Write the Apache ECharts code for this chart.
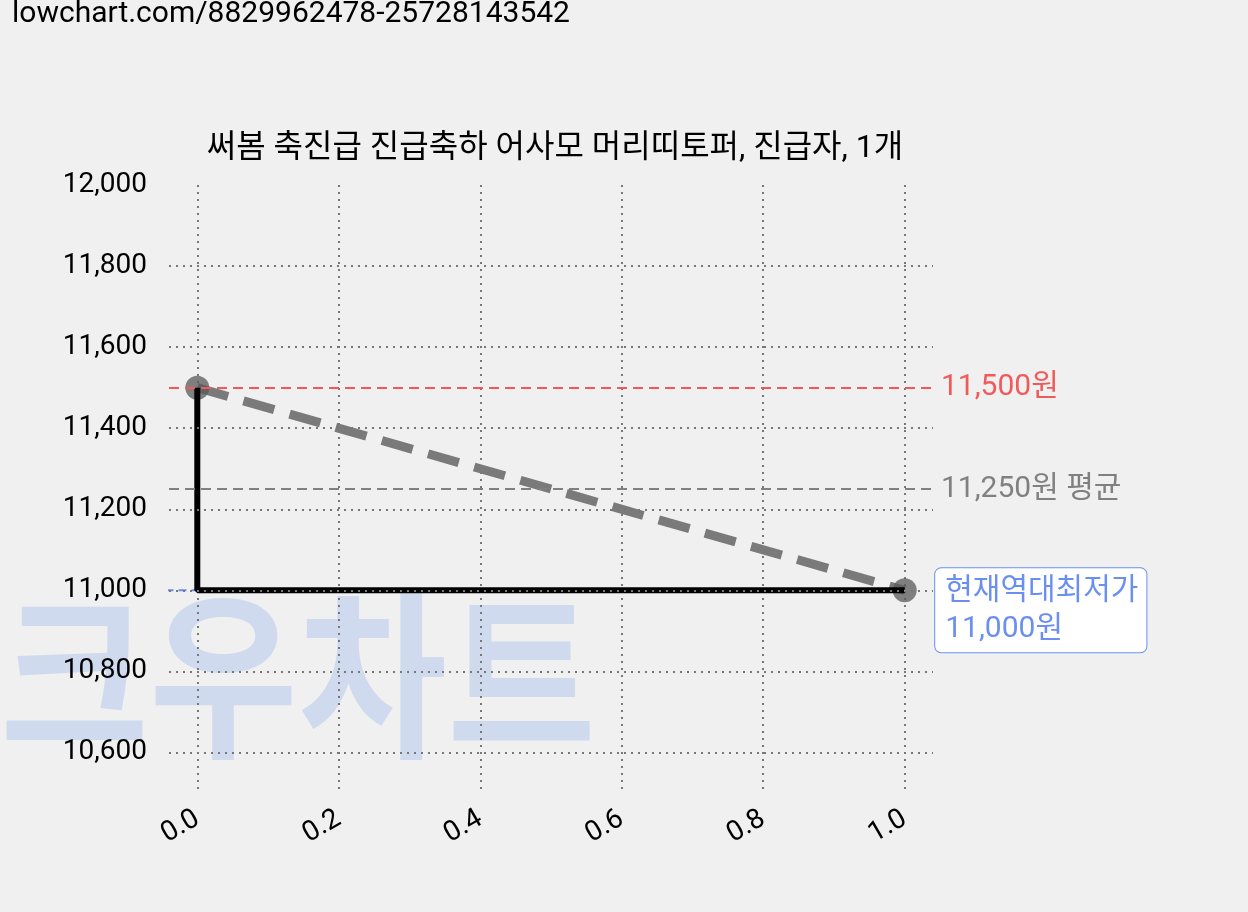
<!DOCTYPE html>
<html><head><meta charset="utf-8">
<script src="https://cdn.jsdelivr.net/npm/echarts@6/dist/echarts.min.js"></script>
<style>body{margin:0;background:#f0f0f0}#c{width:1248px;height:912px}</style>
</head><body><div id="c"></div>
<script>
const stepX = [0, 0, 1];
const stepY = [11500, 11000, 11000];
const trendX = [0, 1];
const trendY = [11500, 11000];
const maxPrice = 11500, avgPrice = 11250, minPrice = 11000;
const xTicks = [0, 0.2, 0.4, 0.6, 0.8, 1.0];
const yTicks = [10600, 10800, 11000, 11200, 11400, 11600, 11800, 12000];
const F = 'Roboto, "Noto Sans CJK KR", sans-serif';
const chart = echarts.init(document.getElementById('c'));
const gridStyle = {type:[2,5], color:'#777', width:2};
chart.setOption({
  backgroundColor: '#f0f0f0',
  animation: false,
  graphic: [
    {type:'text', left: 12, top: 0, style:{text:'lowchart.com/8829962478-25728143542', font:'30px '+F, fill:'#000'}},
    {type:'text', left: 0, top: 585, z: 0, scaleX: 0.9, style:{text:'크우차트', font:'bold 180px "Noto Sans CJK KR"', fill:'rgba(160,185,235,0.4)'}}
  ],
  title: {text:'써봄 축진급 진급축하 어사모 머리띠토퍼, 진급자, 1개', left: 550, textAlign:'center', top: 128,
    textStyle:{fontSize:32, fontWeight:'normal', color:'#000', fontFamily:F}},
  grid: {left:169, right:315, top:185, bottom:119},
  xAxis: {type:'value', min:-0.04, max:1.04,
    axisLine:{show:false}, axisTick:{show:false},
    axisLabel:{customValues: xTicks, rotate:30, fontSize:28, color:'#000', fontFamily:F, margin:24, formatter:v=>v.toFixed(1)},
    splitLine:{show:true, showMinLine:false, showMaxLine:false, lineStyle:gridStyle}},
  yAxis: {type:'value', min:10500, max:12000,
    axisLine:{show:false}, axisTick:{show:false},
    axisLabel:{customValues: yTicks, fontSize:28, color:'#000', fontFamily:F, margin:22, formatter:v=> v.toLocaleString('en-US')},
    splitLine:{show:false}},
  series: [
    {type:'line', data:[], markLine:{symbol:'none', silent:true, lineStyle:gridStyle, label:{show:false},
      data: yTicks.filter(v=>v<12000).map(v=>({yAxis:v}))}},
    {type:'line', data: trendX.map((x,i)=>[x,trendY[i]]), symbol:'circle', symbolSize:24,
      itemStyle:{color:'rgba(90,90,90,0.75)'}, lineStyle:{color:'#7a7a7a', width:9, type:[32,16]}, z:3,
      markLine:{symbol:'none', silent:true, data:[
        {yAxis:maxPrice, lineStyle:{color:'#f05a5a', type:[10,6], width:2}, label:{formatter:'11,500원', position:'end', color:'#f05a5a', fontSize:30, fontFamily:F, distance:8}},
        {yAxis:avgPrice, lineStyle:{color:'#808080', type:[10,6], width:2}, label:{formatter:'11,250원 평균', position:'end', color:'#808080', fontSize:30, fontFamily:F, distance:8}}
      ]}},
    {type:'line', data:[[-0.045,minPrice],[1,minPrice]], symbol:'none', lineStyle:{color:'#6a8ff0', type:[8,5], width:2}, z:2,
      markPoint:{symbol:'circle', symbolSize:1, data:[{coord:[1,minPrice]}],
        label:{show:true, position:'right', distance:30, formatter:'현재역대최저가\n11,000원', color:'#6a8ff0', fontSize:30, fontFamily:F,
          lineHeight:38, backgroundColor:'#fff', borderColor:'#6a8ff0', borderWidth:1, borderRadius:6, padding:[4,8,4,10], align:'left', verticalAlign:'top', offset:[0,-22]}}},
    {type:'line', data: stepX.map((x,i)=>[x,stepY[i]]), symbol:'none', lineStyle:{color:'#000', width:6}, z:4}
  ]
});
</script></body></html>
